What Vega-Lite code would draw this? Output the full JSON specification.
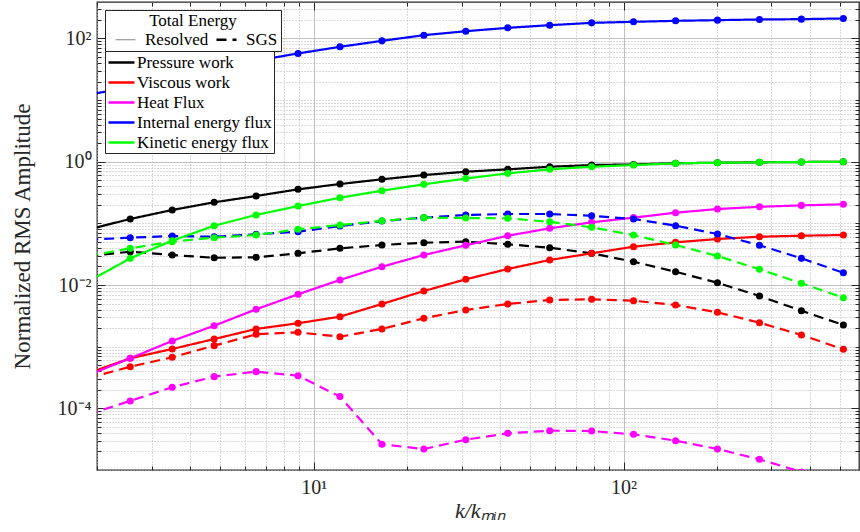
{
  "$schema": "https://vega.github.io/schema/vega-lite/v6.json",
  "width": 762,
  "height": 468,
  "autosize": {"type": "none"},
  "padding": {"left": 97, "top": 2, "right": 1, "bottom": 62},
  "background": "white",
  "config": {
    "font": "Liberation Serif",
    "view": {"stroke": "#262626", "strokeWidth": 1.3},
    "axis": {"labelFont": "Liberation Serif", "titleFont": "Liberation Serif"},
    "legend": {"labelFont": "Liberation Serif", "titleFont": "Liberation Serif"}
  },
  "data": {"values": [
    {"k":1.874,"v":0.0796,"q":"Pressure work","t":"Resolved"},
    {"k":2.56,"v":0.118,"q":"Pressure work","t":"Resolved"},
    {"k":3.497,"v":0.165,"q":"Pressure work","t":"Resolved"},
    {"k":4.776,"v":0.220,"q":"Pressure work","t":"Resolved"},
    {"k":6.522,"v":0.278,"q":"Pressure work","t":"Resolved"},
    {"k":8.906,"v":0.357,"q":"Pressure work","t":"Resolved"},
    {"k":12.16,"v":0.435,"q":"Pressure work","t":"Resolved"},
    {"k":16.61,"v":0.519,"q":"Pressure work","t":"Resolved"},
    {"k":22.68,"v":0.608,"q":"Pressure work","t":"Resolved"},
    {"k":30.97,"v":0.689,"q":"Pressure work","t":"Resolved"},
    {"k":42.3,"v":0.753,"q":"Pressure work","t":"Resolved"},
    {"k":57.77,"v":0.830,"q":"Pressure work","t":"Resolved"},
    {"k":78.89,"v":0.884,"q":"Pressure work","t":"Resolved"},
    {"k":107.7,"v":0.905,"q":"Pressure work","t":"Resolved"},
    {"k":147.2,"v":0.945,"q":"Pressure work","t":"Resolved"},
    {"k":200.9,"v":0.965,"q":"Pressure work","t":"Resolved"},
    {"k":274.5,"v":0.978,"q":"Pressure work","t":"Resolved"},
    {"k":374.8,"v":0.99,"q":"Pressure work","t":"Resolved"},
    {"k":512,"v":1.0,"q":"Pressure work","t":"Resolved"},

    {"k":1.874,"v":0.0297,"q":"Pressure work","t":"SGS"},
    {"k":2.56,"v":0.0347,"q":"Pressure work","t":"SGS"},
    {"k":3.497,"v":0.0307,"q":"Pressure work","t":"SGS"},
    {"k":4.776,"v":0.0277,"q":"Pressure work","t":"SGS"},
    {"k":6.522,"v":0.0282,"q":"Pressure work","t":"SGS"},
    {"k":8.906,"v":0.0327,"q":"Pressure work","t":"SGS"},
    {"k":12.16,"v":0.0394,"q":"Pressure work","t":"SGS"},
    {"k":16.61,"v":0.0446,"q":"Pressure work","t":"SGS"},
    {"k":22.68,"v":0.0486,"q":"Pressure work","t":"SGS"},
    {"k":30.97,"v":0.0505,"q":"Pressure work","t":"SGS"},
    {"k":42.3,"v":0.0458,"q":"Pressure work","t":"SGS"},
    {"k":57.77,"v":0.0403,"q":"Pressure work","t":"SGS"},
    {"k":78.89,"v":0.0327,"q":"Pressure work","t":"SGS"},
    {"k":107.7,"v":0.0239,"q":"Pressure work","t":"SGS"},
    {"k":147.2,"v":0.0164,"q":"Pressure work","t":"SGS"},
    {"k":200.9,"v":0.0109,"q":"Pressure work","t":"SGS"},
    {"k":274.5,"v":0.00664,"q":"Pressure work","t":"SGS"},
    {"k":374.8,"v":0.00383,"q":"Pressure work","t":"SGS"},
    {"k":512,"v":0.00225,"q":"Pressure work","t":"SGS"},

    {"k":1.874,"v":0.000373,"q":"Viscous work","t":"Resolved"},
    {"k":2.56,"v":0.000649,"q":"Viscous work","t":"Resolved"},
    {"k":3.497,"v":0.000918,"q":"Viscous work","t":"Resolved"},
    {"k":4.776,"v":0.00133,"q":"Viscous work","t":"Resolved"},
    {"k":6.522,"v":0.00194,"q":"Viscous work","t":"Resolved"},
    {"k":8.906,"v":0.0024,"q":"Viscous work","t":"Resolved"},
    {"k":12.16,"v":0.00307,"q":"Viscous work","t":"Resolved"},
    {"k":16.61,"v":0.00493,"q":"Viscous work","t":"Resolved"},
    {"k":22.68,"v":0.008,"q":"Viscous work","t":"Resolved"},
    {"k":30.97,"v":0.0124,"q":"Viscous work","t":"Resolved"},
    {"k":42.3,"v":0.0182,"q":"Viscous work","t":"Resolved"},
    {"k":57.77,"v":0.0255,"q":"Viscous work","t":"Resolved"},
    {"k":78.89,"v":0.0327,"q":"Viscous work","t":"Resolved"},
    {"k":107.7,"v":0.0419,"q":"Viscous work","t":"Resolved"},
    {"k":147.2,"v":0.0493,"q":"Viscous work","t":"Resolved"},
    {"k":200.9,"v":0.0558,"q":"Viscous work","t":"Resolved"},
    {"k":274.5,"v":0.0608,"q":"Viscous work","t":"Resolved"},
    {"k":374.8,"v":0.0631,"q":"Viscous work","t":"Resolved"},
    {"k":512,"v":0.0648,"q":"Viscous work","t":"Resolved"},

    {"k":1.874,"v":0.00031,"q":"Viscous work","t":"SGS"},
    {"k":2.56,"v":0.000474,"q":"Viscous work","t":"SGS"},
    {"k":3.497,"v":0.000673,"q":"Viscous work","t":"SGS"},
    {"k":4.776,"v":0.00104,"q":"Viscous work","t":"SGS"},
    {"k":6.522,"v":0.00159,"q":"Viscous work","t":"SGS"},
    {"k":8.906,"v":0.00171,"q":"Viscous work","t":"SGS"},
    {"k":12.16,"v":0.00145,"q":"Viscous work","t":"SGS"},
    {"k":16.61,"v":0.00194,"q":"Viscous work","t":"SGS"},
    {"k":22.68,"v":0.00289,"q":"Viscous work","t":"SGS"},
    {"k":30.97,"v":0.00394,"q":"Viscous work","t":"SGS"},
    {"k":42.3,"v":0.00493,"q":"Viscous work","t":"SGS"},
    {"k":57.77,"v":0.00572,"q":"Viscous work","t":"SGS"},
    {"k":78.89,"v":0.00587,"q":"Viscous work","t":"SGS"},
    {"k":107.7,"v":0.00557,"q":"Viscous work","t":"SGS"},
    {"k":147.2,"v":0.00474,"q":"Viscous work","t":"SGS"},
    {"k":200.9,"v":0.00361,"q":"Viscous work","t":"SGS"},
    {"k":274.5,"v":0.00245,"q":"Viscous work","t":"SGS"},
    {"k":374.8,"v":0.00155,"q":"Viscous work","t":"SGS"},
    {"k":512,"v":0.000908,"q":"Viscous work","t":"SGS"},

    {"k":1.874,"v":0.000345,"q":"Heat Flux","t":"Resolved"},
    {"k":2.56,"v":0.000649,"q":"Heat Flux","t":"Resolved"},
    {"k":3.497,"v":0.00124,"q":"Heat Flux","t":"Resolved"},
    {"k":4.776,"v":0.00219,"q":"Heat Flux","t":"Resolved"},
    {"k":6.522,"v":0.00404,"q":"Heat Flux","t":"Resolved"},
    {"k":8.906,"v":0.00708,"q":"Heat Flux","t":"Resolved"},
    {"k":12.16,"v":0.0121,"q":"Heat Flux","t":"Resolved"},
    {"k":16.61,"v":0.0198,"q":"Heat Flux","t":"Resolved"},
    {"k":22.68,"v":0.0307,"q":"Heat Flux","t":"Resolved"},
    {"k":30.97,"v":0.0441,"q":"Heat Flux","t":"Resolved"},
    {"k":42.3,"v":0.0631,"q":"Heat Flux","t":"Resolved"},
    {"k":57.77,"v":0.0832,"q":"Heat Flux","t":"Resolved"},
    {"k":78.89,"v":0.104,"q":"Heat Flux","t":"Resolved"},
    {"k":107.7,"v":0.124,"q":"Heat Flux","t":"Resolved"},
    {"k":147.2,"v":0.149,"q":"Heat Flux","t":"Resolved"},
    {"k":200.9,"v":0.171,"q":"Heat Flux","t":"Resolved"},
    {"k":274.5,"v":0.186,"q":"Heat Flux","t":"Resolved"},
    {"k":374.8,"v":0.196,"q":"Heat Flux","t":"Resolved"},
    {"k":512,"v":0.204,"q":"Heat Flux","t":"Resolved"},

    {"k":1.874,"v":0.0000796,"q":"Heat Flux","t":"SGS"},
    {"k":2.56,"v":0.000132,"q":"Heat Flux","t":"SGS"},
    {"k":3.497,"v":0.00022,"q":"Heat Flux","t":"SGS"},
    {"k":4.776,"v":0.000327,"q":"Heat Flux","t":"SGS"},
    {"k":6.522,"v":0.000394,"q":"Heat Flux","t":"SGS"},
    {"k":8.906,"v":0.000339,"q":"Heat Flux","t":"SGS"},
    {"k":12.16,"v":0.000155,"q":"Heat Flux","t":"SGS"},
    {"k":16.61,"v":0.0000261,"q":"Heat Flux","t":"SGS"},
    {"k":22.68,"v":0.0000219,"q":"Heat Flux","t":"SGS"},
    {"k":30.97,"v":0.000031,"q":"Heat Flux","t":"SGS"},
    {"k":42.3,"v":0.0000394,"q":"Heat Flux","t":"SGS"},
    {"k":57.77,"v":0.0000434,"q":"Heat Flux","t":"SGS"},
    {"k":78.89,"v":0.0000429,"q":"Heat Flux","t":"SGS"},
    {"k":107.7,"v":0.0000379,"q":"Heat Flux","t":"SGS"},
    {"k":147.2,"v":0.0000299,"q":"Heat Flux","t":"SGS"},
    {"k":200.9,"v":0.0000219,"q":"Heat Flux","t":"SGS"},
    {"k":274.5,"v":0.0000149,"q":"Heat Flux","t":"SGS"},
    {"k":374.8,"v":0.0000093,"q":"Heat Flux","t":"SGS"},
    {"k":512,"v":0.0000057,"q":"Heat Flux","t":"SGS"},

    {"k":1.874,"v":12.2,"q":"Internal energy flux","t":"Resolved"},
    {"k":2.56,"v":16.2,"q":"Internal energy flux","t":"Resolved"},
    {"k":3.497,"v":23.1,"q":"Internal energy flux","t":"Resolved"},
    {"k":4.776,"v":32.4,"q":"Internal energy flux","t":"Resolved"},
    {"k":6.522,"v":43.6,"q":"Internal energy flux","t":"Resolved"},
    {"k":8.906,"v":57.1,"q":"Internal energy flux","t":"Resolved"},
    {"k":12.16,"v":73.1,"q":"Internal energy flux","t":"Resolved"},
    {"k":16.61,"v":91.4,"q":"Internal energy flux","t":"Resolved"},
    {"k":22.68,"v":113,"q":"Internal energy flux","t":"Resolved"},
    {"k":30.97,"v":131,"q":"Internal energy flux","t":"Resolved"},
    {"k":42.3,"v":148.6,"q":"Internal energy flux","t":"Resolved"},
    {"k":57.77,"v":164,"q":"Internal energy flux","t":"Resolved"},
    {"k":78.89,"v":179,"q":"Internal energy flux","t":"Resolved"},
    {"k":107.7,"v":186,"q":"Internal energy flux","t":"Resolved"},
    {"k":147.2,"v":193,"q":"Internal energy flux","t":"Resolved"},
    {"k":200.9,"v":198,"q":"Internal energy flux","t":"Resolved"},
    {"k":274.5,"v":203,"q":"Internal energy flux","t":"Resolved"},
    {"k":374.8,"v":205.6,"q":"Internal energy flux","t":"Resolved"},
    {"k":512,"v":211,"q":"Internal energy flux","t":"Resolved"},

    {"k":1.874,"v":0.0543,"q":"Internal energy flux","t":"SGS"},
    {"k":2.56,"v":0.0586,"q":"Internal energy flux","t":"SGS"},
    {"k":3.497,"v":0.0624,"q":"Internal energy flux","t":"SGS"},
    {"k":4.776,"v":0.0608,"q":"Internal energy flux","t":"SGS"},
    {"k":6.522,"v":0.0665,"q":"Internal energy flux","t":"SGS"},
    {"k":8.906,"v":0.0733,"q":"Internal energy flux","t":"SGS"},
    {"k":12.16,"v":0.0906,"q":"Internal energy flux","t":"SGS"},
    {"k":16.61,"v":0.109,"q":"Internal energy flux","t":"SGS"},
    {"k":22.68,"v":0.124,"q":"Internal energy flux","t":"SGS"},
    {"k":30.97,"v":0.137,"q":"Internal energy flux","t":"SGS"},
    {"k":42.3,"v":0.142,"q":"Internal energy flux","t":"SGS"},
    {"k":57.77,"v":0.142,"q":"Internal energy flux","t":"SGS"},
    {"k":78.89,"v":0.133,"q":"Internal energy flux","t":"SGS"},
    {"k":107.7,"v":0.118,"q":"Internal energy flux","t":"SGS"},
    {"k":147.2,"v":0.0917,"q":"Internal energy flux","t":"SGS"},
    {"k":200.9,"v":0.0673,"q":"Internal energy flux","t":"SGS"},
    {"k":274.5,"v":0.0441,"q":"Internal energy flux","t":"SGS"},
    {"k":374.8,"v":0.0271,"q":"Internal energy flux","t":"SGS"},
    {"k":512,"v":0.0158,"q":"Internal energy flux","t":"SGS"},

    {"k":1.874,"v":0.0114,"q":"Kinetic energy flux","t":"Resolved"},
    {"k":2.56,"v":0.0271,"q":"Kinetic energy flux","t":"Resolved"},
    {"k":3.497,"v":0.0524,"q":"Kinetic energy flux","t":"Resolved"},
    {"k":4.776,"v":0.0917,"q":"Kinetic energy flux","t":"Resolved"},
    {"k":6.522,"v":0.137,"q":"Kinetic energy flux","t":"Resolved"},
    {"k":8.906,"v":0.191,"q":"Kinetic energy flux","t":"Resolved"},
    {"k":12.16,"v":0.261,"q":"Kinetic energy flux","t":"Resolved"},
    {"k":16.61,"v":0.339,"q":"Kinetic energy flux","t":"Resolved"},
    {"k":22.68,"v":0.43,"q":"Kinetic energy flux","t":"Resolved"},
    {"k":30.97,"v":0.534,"q":"Kinetic energy flux","t":"Resolved"},
    {"k":42.3,"v":0.648,"q":"Kinetic energy flux","t":"Resolved"},
    {"k":57.77,"v":0.753,"q":"Kinetic energy flux","t":"Resolved"},
    {"k":78.89,"v":0.83,"q":"Kinetic energy flux","t":"Resolved"},
    {"k":107.7,"v":0.884,"q":"Kinetic energy flux","t":"Resolved"},
    {"k":147.2,"v":0.942,"q":"Kinetic energy flux","t":"Resolved"},
    {"k":200.9,"v":0.963,"q":"Kinetic energy flux","t":"Resolved"},
    {"k":274.5,"v":0.978,"q":"Kinetic energy flux","t":"Resolved"},
    {"k":374.8,"v":0.989,"q":"Kinetic energy flux","t":"Resolved"},
    {"k":512,"v":1.0,"q":"Kinetic energy flux","t":"Resolved"},

    {"k":1.874,"v":0.0297,"q":"Kinetic energy flux","t":"SGS"},
    {"k":2.56,"v":0.0394,"q":"Kinetic energy flux","t":"SGS"},
    {"k":3.497,"v":0.0505,"q":"Kinetic energy flux","t":"SGS"},
    {"k":4.776,"v":0.0586,"q":"Kinetic energy flux","t":"SGS"},
    {"k":6.522,"v":0.0648,"q":"Kinetic energy flux","t":"SGS"},
    {"k":8.906,"v":0.0801,"q":"Kinetic energy flux","t":"SGS"},
    {"k":12.16,"v":0.0941,"q":"Kinetic energy flux","t":"SGS"},
    {"k":16.61,"v":0.11,"q":"Kinetic energy flux","t":"SGS"},
    {"k":22.68,"v":0.124,"q":"Kinetic energy flux","t":"SGS"},
    {"k":30.97,"v":0.122,"q":"Kinetic energy flux","t":"SGS"},
    {"k":42.3,"v":0.121,"q":"Kinetic energy flux","t":"SGS"},
    {"k":57.77,"v":0.106,"q":"Kinetic energy flux","t":"SGS"},
    {"k":78.89,"v":0.0863,"q":"Kinetic energy flux","t":"SGS"},
    {"k":107.7,"v":0.0648,"q":"Kinetic energy flux","t":"SGS"},
    {"k":147.2,"v":0.0446,"q":"Kinetic energy flux","t":"SGS"},
    {"k":200.9,"v":0.0296,"q":"Kinetic energy flux","t":"SGS"},
    {"k":274.5,"v":0.018,"q":"Kinetic energy flux","t":"SGS"},
    {"k":374.8,"v":0.0107,"q":"Kinetic energy flux","t":"SGS"},
    {"k":512,"v":0.00623,"q":"Kinetic energy flux","t":"SGS"}
  ]},
  "layer": [
    {
      "mark": {"type": "line", "clip": true, "strokeWidth": 2.2},
      "encoding": {
        "x": {"field": "k", "type": "quantitative",
          "scale": {"type": "log", "domain": [2, 575], "nice": false},
          "axis": {"orient": "bottom",
            "values": [2,3,4,5,6,7,8,9,10,20,30,40,50,60,70,80,90,100,200,300,400,500],
            "labelExpr": "datum.value == 10 ? '10¹' : datum.value == 100 ? '10²' : ''",
            "ticks": false, "tickSize": 0, "domain": false,
            "labelOverlap": false, "labelFlush": false, "labelBound": false,
            "labelFontSize": 20, "labelPadding": 7, "labelColor": "#262626",
            "grid": true,
            "gridColor": {"condition": {"test": "abs(log(datum.value)/LN10 - round(log(datum.value)/LN10)) < 1e-6", "value": "#c0c0c0"}, "value": "#b4b4b4"},
            "gridDash": {"condition": {"test": "abs(log(datum.value)/LN10 - round(log(datum.value)/LN10)) < 1e-6", "value": []}, "value": [1, 2]},
            "gridWidth": 1,
            "title": "k/kₘᵢₙ", "titleFontStyle": "italic", "titleFontWeight": "normal",
            "titleFontSize": 22, "titleColor": "#262626",
            "titleX": 383, "titleY": 47, "titleBaseline": "alphabetic"}},
        "y": {"field": "v", "type": "quantitative",
          "scale": {"type": "log", "domain": [0.00001, 390], "nice": false},
          "axis": {"orient": "left",
            "values": [0.00001,0.00002,0.00003,0.00004,0.00005,0.00006,0.00007,0.00008,0.00009,
                       0.0001,0.0002,0.0003,0.0004,0.0005,0.0006,0.0007,0.0008,0.0009,
                       0.001,0.002,0.003,0.004,0.005,0.006,0.007,0.008,0.009,
                       0.01,0.02,0.03,0.04,0.05,0.06,0.07,0.08,0.09,
                       0.1,0.2,0.3,0.4,0.5,0.6,0.7,0.8,0.9,
                       1,2,3,4,5,6,7,8,9,10,20,30,40,50,60,70,80,90,100,200,300],
            "labelExpr": "abs(datum.value - 100) < 1e-6 ? '10²' : abs(datum.value - 1) < 1e-9 ? '10⁰' : abs(datum.value - 0.01) < 1e-11 ? '10⁻²' : abs(datum.value - 0.0001) < 1e-13 ? '10⁻⁴' : ''",
            "ticks": false, "tickSize": 0, "domain": false,
            "labelOverlap": false, "labelFlush": false, "labelBound": false,
            "labelFontSize": 20, "labelPadding": 6, "labelColor": "#262626",
            "grid": true,
            "gridColor": {"condition": {"test": "abs(log(datum.value)/LN10 - round(log(datum.value)/LN10)) < 1e-6 && abs(round(log(datum.value)/LN10)) % 2 == 0", "value": "#c0c0c0"}, "value": "#b4b4b4"},
            "gridDash": {"condition": {"test": "abs(log(datum.value)/LN10 - round(log(datum.value)/LN10)) < 1e-6 && abs(round(log(datum.value)/LN10)) % 2 == 0", "value": []}, "value": [1, 2]},
            "gridWidth": 1,
            "title": "Normalized RMS Amplitude", "titleFontWeight": "normal",
            "titleFontSize": 23, "titleColor": "#262626",
            "titleX": -68, "titleY": 234, "titleBaseline": "alphabetic"}},
        "color": {"field": "q", "type": "nominal",
          "scale": {"domain": ["Pressure work","Viscous work","Heat Flux","Internal energy flux","Kinetic energy flux"],
                    "range": ["#000000","#ff0000","#ff00ff","#0000ff","#00ff00"]},
          "legend": {"orient": "none", "legendX": 8, "legendY": 47, "title": null,
            "symbolType": "M-1.3,0H1.3", "symbolSize": 400, "symbolStrokeWidth": 2.5, "symbolOffset": 3,
            "labelFontSize": 17, "labelColor": "#000000", "labelOffset": 4, "labelLimit": 300,
            "rowPadding": 0, "padding": 2, "fillColor": "white", "strokeColor": "#262626"}},
        "strokeDash": {"field": "t", "type": "nominal",
          "scale": {"domain": ["Resolved", "SGS"], "range": [[1, 0], [10, 6]]},
          "legend": {"orient": "none", "legendX": 8, "legendY": 8, "direction": "horizontal",
            "title": "Total Energy", "titleFontSize": 17, "titleFontWeight": "normal", "titleColor": "#000000",
            "titleAnchor": "middle", "titlePadding": 1,
            "symbolType": "M-1,0H1", "symbolSize": 400, "symbolStrokeColor": "#000000", "symbolStrokeWidth": 2,
            "symbolOffset": 9,
            "labelFontSize": 17, "labelColor": "#000000", "labelOffset": 11, "columnPadding": -7,
            "padding": 3, "fillColor": "white", "strokeColor": "#262626",
            "encode": {"symbols": {"update": {
              "stroke": {"signal": "datum.value == 'SGS' ? '#000000' : '#888888'"},
              "strokeWidth": {"signal": "datum.value == 'SGS' ? 2.5 : 1.2"},
              "strokeDash": {"signal": "datum.value == 'SGS' ? [7, 6] : [100, 0]"}}}}}}
      }
    },
    {
      "mark": {"type": "point", "filled": true, "opacity": 1, "size": 50, "clip": true},
      "encoding": {
        "x": {"field": "k", "type": "quantitative", "axis": null},
        "y": {"field": "v", "type": "quantitative", "axis": null},
        "color": {"field": "q", "type": "nominal"}
      }
    },
    {
      "mark": {"type": "point", "opacity": 0, "clip": true},
      "encoding": {
        "x": {"field": "k", "type": "quantitative", "axis": {"orient": "bottom", "values": [2,3,4,5,6,7,8,9,20,30,40,50,60,70,80,90,200,300,400,500], "labels": false, "grid": false, "domain": false, "ticks": true, "tickSize": 4, "offset": -4, "tickColor": "#262626", "title": null}},
        "y": {"field": "v", "type": "quantitative", "axis": {"orient": "left", "values": [0.00002,0.00003,0.00004,0.00005,0.00006,0.00007,0.00008,0.00009,0.0002,0.0003,0.0004,0.0005,0.0006,0.0007,0.0008,0.0009,0.001,0.002,0.003,0.004,0.005,0.006,0.007,0.008,0.009,0.02,0.03,0.04,0.05,0.06,0.07,0.08,0.09,0.1,0.2,0.3,0.4,0.5,0.6,0.7,0.8,0.9,2,3,4,5,6,7,8,9,10,20,30,40,50,60,70,80,90,200,300], "labels": false, "grid": false, "domain": false, "ticks": true, "tickSize": 4, "offset": -4, "tickColor": "#262626", "title": null}}
      }
    },
    {
      "mark": {"type": "point", "opacity": 0, "clip": true},
      "encoding": {
        "x": {"field": "k", "type": "quantitative", "axis": {"orient": "bottom", "values": [10, 100], "labels": false, "grid": false, "domain": false, "ticks": true, "tickSize": 8, "offset": -8, "tickColor": "#262626", "title": null}},
        "y": {"field": "v", "type": "quantitative", "axis": {"orient": "left", "values": [0.0001, 0.01, 1, 100], "labels": false, "grid": false, "domain": false, "ticks": true, "tickSize": 8, "offset": -8, "tickColor": "#262626", "title": null}}
      }
    },
    {
      "mark": {"type": "point", "opacity": 0, "clip": true},
      "encoding": {
        "x": {"field": "k", "type": "quantitative", "axis": {"orient": "top", "values": [2,3,4,5,6,7,8,9,20,30,40,50,60,70,80,90,200,300,400,500], "labels": false, "grid": false, "domain": false, "ticks": true, "tickSize": 4, "offset": -4, "tickColor": "#262626", "title": null}},
        "y": {"field": "v", "type": "quantitative", "axis": {"orient": "right", "values": [0.00002,0.00003,0.00004,0.00005,0.00006,0.00007,0.00008,0.00009,0.0002,0.0003,0.0004,0.0005,0.0006,0.0007,0.0008,0.0009,0.001,0.002,0.003,0.004,0.005,0.006,0.007,0.008,0.009,0.02,0.03,0.04,0.05,0.06,0.07,0.08,0.09,0.1,0.2,0.3,0.4,0.5,0.6,0.7,0.8,0.9,2,3,4,5,6,7,8,9,10,20,30,40,50,60,70,80,90,200,300], "labels": false, "grid": false, "domain": false, "ticks": true, "tickSize": 4, "offset": -4, "tickColor": "#262626", "title": null}}
      }
    },
    {
      "mark": {"type": "point", "opacity": 0, "clip": true},
      "encoding": {
        "x": {"field": "k", "type": "quantitative", "axis": {"orient": "top", "values": [10, 100], "labels": false, "grid": false, "domain": false, "ticks": true, "tickSize": 8, "offset": -8, "tickColor": "#262626", "title": null}},
        "y": {"field": "v", "type": "quantitative", "axis": {"orient": "right", "values": [0.0001, 0.01, 1, 100], "labels": false, "grid": false, "domain": false, "ticks": true, "tickSize": 8, "offset": -8, "tickColor": "#262626", "title": null}}
      }
    }
  ],
  "resolve": {"axis": {"x": "independent", "y": "independent"}}
}
